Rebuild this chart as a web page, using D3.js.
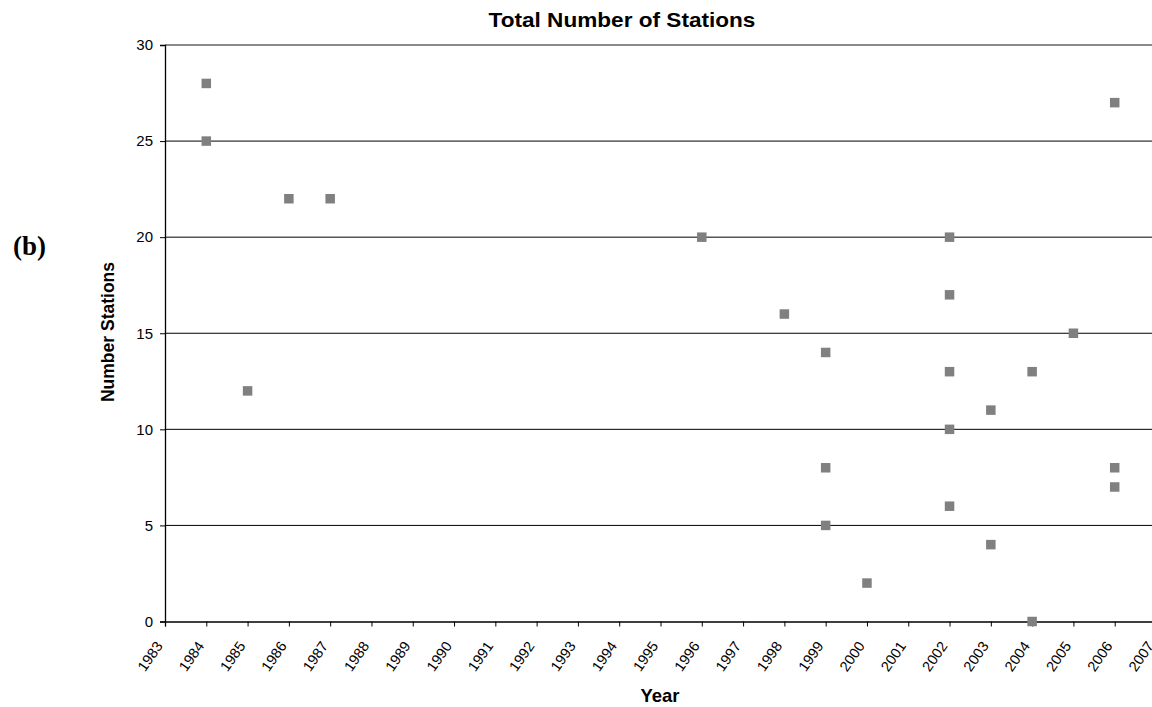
<!DOCTYPE html>
<html>
<head>
<meta charset="utf-8">
<script src="https://cdn.jsdelivr.net/npm/d3@7"></script>
<style>
  html, body { margin: 0; padding: 0; background: #fff; }
  svg { display: block; }
</style>
</head>
<body>
<svg id="chart" width="1152" height="707"></svg>
<script>
// Survey years and number of stations recorded in each survey
const years    = [1984, 1984, 1985, 1986, 1987, 1996, 1998, 1999, 1999, 1999, 2000,
                  2002, 2002, 2002, 2002, 2002, 2003, 2003, 2004, 2004, 2005, 2006, 2006, 2006];
const stations = [28, 25, 12, 22, 22, 20, 16, 14, 8, 5, 2,
                  20, 17, 13, 10, 6, 11, 4, 13, 0, 15, 27, 8, 7];
const xTicks = d3.range(1983, 2008);
const yTicks = [0, 5, 10, 15, 20, 25, 30];

const svg = d3.select("#chart");
const plotLeft = 165, plotRight = 1156, plotTop = 45, plotBottom = 621.5;
const sans = "Liberation Sans, Arial, sans-serif";

const x = d3.scaleLinear().domain([1983, 2007]).range([plotLeft, plotRight]);
const y = d3.scaleLinear().domain([0, 30]).range([plotBottom, plotTop]);

// horizontal gridlines
svg.append("g")
  .selectAll("line")
  .data(yTicks.filter(v => v > 0 && v < 30))
  .join("line")
  .attr("x1", plotLeft).attr("x2", plotRight)
  .attr("y1", d => y(d)).attr("y2", d => y(d))
  .attr("stroke", "#000").attr("stroke-width", 1);

// top border of the plot area
svg.append("line")
  .attr("x1", plotLeft).attr("x2", plotRight)
  .attr("y1", y(30)).attr("y2", y(30))
  .attr("stroke", "#8a8a8a").attr("stroke-width", 2);

// y axis
const yAxis = svg.append("g")
  .attr("transform", `translate(${plotLeft},0)`)
  .call(d3.axisLeft(y).tickValues(yTicks).tickSize(5).tickPadding(7).tickFormat(d3.format("d")));
yAxis.select(".domain").attr("stroke", "#000").attr("stroke-width", 1.3);
yAxis.selectAll(".tick line").attr("stroke", "#000");
yAxis.selectAll("text")
  .attr("font-family", sans)
  .attr("font-size", 15).attr("fill", "#000");

// x axis with rotated year labels
const xAxis = svg.append("g")
  .attr("transform", `translate(0,${plotBottom})`)
  .call(d3.axisBottom(x).tickValues(xTicks).tickSize(5).tickFormat(d3.format("d")));
xAxis.select(".domain").attr("stroke", "#000").attr("stroke-width", 1.3);
xAxis.selectAll(".tick line").attr("stroke", "#000");
xAxis.selectAll("text")
  .attr("font-family", sans)
  .attr("font-size", 14.5).attr("fill", "#000")
  .attr("text-anchor", "end")
  .attr("dy", 0)
  .attr("y", 0)
  .attr("transform", "translate(-2,24.5) rotate(-55)");

// data points
svg.append("g")
  .selectAll("rect")
  .data(years.map((yr, i) => ({ yr, n: stations[i] })))
  .join("rect")
  .attr("x", d => x(d.yr) - 4.75)
  .attr("y", d => y(d.n) - 4.75)
  .attr("width", 9.5).attr("height", 9.5)
  .attr("fill", "#808080");

// titles
svg.append("text")
  .attr("transform", "translate(622,26.5) scale(1.13,1)")
  .attr("text-anchor", "middle")
  .attr("font-family", sans)
  .attr("font-weight", "bold").attr("font-size", 20)
  .text("Total Number of Stations");

svg.append("text")
  .attr("x", 660).attr("y", 701.5)
  .attr("text-anchor", "middle")
  .attr("font-family", sans)
  .attr("font-weight", "bold").attr("font-size", 18.5)
  .text("Year");

svg.append("text")
  .attr("transform", "translate(114,332) rotate(-90)")
  .attr("text-anchor", "middle")
  .attr("font-family", sans)
  .attr("font-weight", "bold").attr("font-size", 17.5)
  .text("Number Stations");

svg.append("text")
  .attr("x", 13).attr("y", 255)
  .attr("font-family", "Liberation Serif, Times New Roman, serif")
  .attr("font-weight", "bold").attr("font-size", 27)
  .text("(b)");
</script>
</body>
</html>
